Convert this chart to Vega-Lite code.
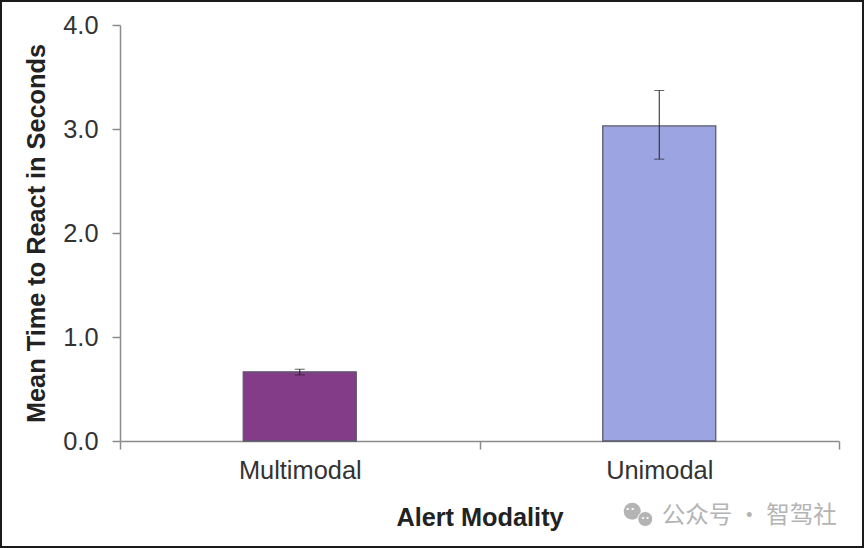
{
  "$schema": "https://vega.github.io/schema/vega-lite/v6.json",
  "width": 862,
  "height": 546,
  "padding": 1,
  "autosize": "none",
  "background": "white",
  "view": {"stroke": "#1a1a1a", "strokeWidth": 2, "fill": "white"},
  "config": {"font": "Liberation Sans"},
  "datasets": {
    "bars": [
      {"modality": "Multimodal", "mean": 0.665, "low": 0.635, "high": 0.69},
      {"modality": "Unimodal", "mean": 3.03, "low": 2.71, "high": 3.37}
    ],
    "mark": [
      {"modality": "Unimodal", "pos": -0.72, "text": "公众号 · 智驾社"}
    ],
    "iconA": [
      {"modality": "Unimodal", "pos": -0.675, "eyes": "• •"}
    ],
    "iconB": [
      {"modality": "Unimodal", "pos": -0.75, "eyes": "• •"}
    ]
  },
  "layer": [
    {
      "data": {"name": "bars"},
      "mark": {"type": "bar", "width": 113, "stroke": "#5a5a6a", "strokeWidth": 1.3},
      "encoding": {
        "x": {
          "field": "modality",
          "type": "nominal",
          "sort": null,
          "title": "Alert Modality",
          "scale": {"range": [119, 838], "paddingInner": 0, "paddingOuter": 0},
          "axis": {
            "offset": -106,
            "labelAngle": 0,
            "tickBand": "extent",
            "domainColor": "#8c8c8c",
            "domainWidth": 1.5,
            "tickColor": "#8c8c8c",
            "tickWidth": 1.5,
            "tickSize": 8,
            "labelFont": "Liberation Sans",
            "labelFontSize": 25.4,
            "labelColor": "#333333",
            "labelPadding": 9,
            "titleFont": "Liberation Sans",
            "titleFontSize": 25.3,
            "titleFontWeight": "bold",
            "titleColor": "#222222",
            "titlePadding": 22
          }
        },
        "y": {
          "field": "mean",
          "type": "quantitative",
          "title": "Mean Time to React in Seconds",
          "scale": {"domain": [0, 4], "range": [440, 24], "nice": false},
          "axis": {
            "offset": -119,
            "values": [0, 1, 2, 3, 4],
            "format": ".1f",
            "grid": false,
            "domainColor": "#8c8c8c",
            "domainWidth": 1.5,
            "tickColor": "#8c8c8c",
            "tickWidth": 1.5,
            "tickSize": 8,
            "labelFont": "Liberation Sans",
            "labelFontSize": 25.4,
            "labelColor": "#333333",
            "labelPadding": 14,
            "titleFont": "Liberation Sans",
            "titleFontSize": 25.3,
            "titleFontWeight": "bold",
            "titleColor": "#222222",
            "titlePadding": 13
          }
        },
        "color": {
          "field": "modality",
          "type": "nominal",
          "sort": null,
          "legend": null,
          "scale": {"range": ["#833d88", "#9ca5e2"]}
        }
      }
    },
    {
      "data": {"name": "bars"},
      "mark": {
        "type": "errorbar",
        "ticks": {"size": 10, "color": "#222222"},
        "rule": {"color": "#222222", "strokeWidth": 1}
      },
      "encoding": {
        "x": {"field": "modality", "type": "nominal", "sort": null},
        "y": {"field": "low", "type": "quantitative", "title": "Mean Time to React in Seconds"},
        "y2": {"field": "high"}
      }
    },
    {
      "data": {"name": "mark"},
      "mark": {"type": "text", "fontSize": 23.5, "font": "Noto Sans CJK SC", "color": "#b4b4b4", "align": "center", "dx": 90},
      "encoding": {
        "x": {"field": "modality", "type": "nominal", "sort": null},
        "y": {"field": "pos", "type": "quantitative"},
        "text": {"field": "text"}
      }
    },
    {
      "data": {"name": "iconA"},
      "mark": {"type": "point", "filled": true, "opacity": 1, "size": 289, "color": "#b4b4b4", "xOffset": -27},
      "encoding": {
        "x": {"field": "modality", "type": "nominal", "sort": null},
        "y": {"field": "pos", "type": "quantitative"}
      }
    },
    {
      "data": {"name": "iconB"},
      "mark": {"type": "point", "filled": true, "opacity": 1, "size": 225, "stroke": "white", "strokeWidth": 1, "color": "#b4b4b4", "xOffset": -14},
      "encoding": {
        "x": {"field": "modality", "type": "nominal", "sort": null},
        "y": {"field": "pos", "type": "quantitative"}
      }
    },
    {
      "data": {"name": "iconA"},
      "mark": {"type": "text", "fontSize": 8, "color": "white", "align": "center", "dx": -29, "dy": -2},
      "encoding": {
        "x": {"field": "modality", "type": "nominal", "sort": null},
        "y": {"field": "pos", "type": "quantitative"},
        "text": {"field": "eyes"}
      }
    },
    {
      "data": {"name": "iconB"},
      "mark": {"type": "text", "fontSize": 7, "color": "white", "align": "center", "dx": -14, "dy": -1},
      "encoding": {
        "x": {"field": "modality", "type": "nominal", "sort": null},
        "y": {"field": "pos", "type": "quantitative"},
        "text": {"field": "eyes"}
      }
    }
  ]
}
